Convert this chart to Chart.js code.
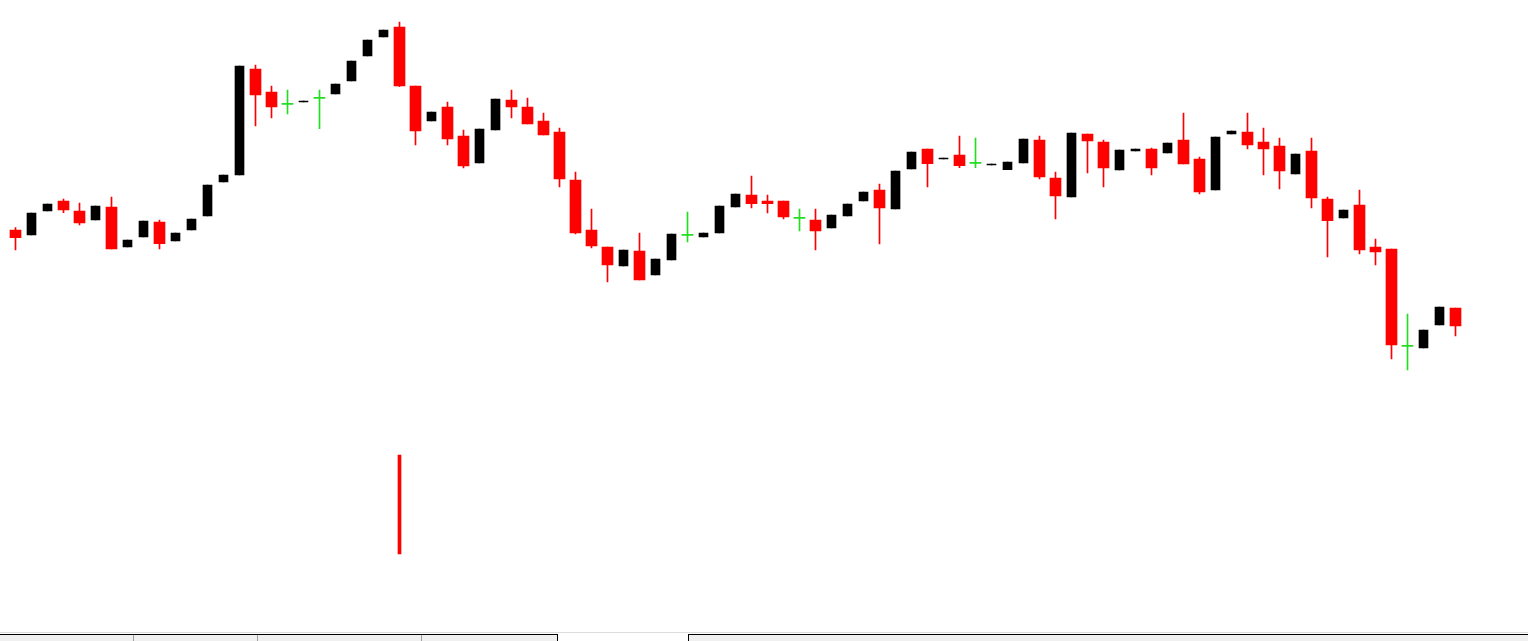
<!DOCTYPE html>
<html>
<head>
<meta charset="utf-8">
<script src="https://cdn.jsdelivr.net/npm/chart.js@4.4.0/dist/chart.umd.min.js"></script>
<style>
  html, body { margin: 0; padding: 0; background: #fff; overflow: hidden; }
  #wrap { position: relative; width: 1528px; height: 641px; }
  #chart { position: absolute; left: 0; top: 0; }
  .rule { position: absolute; left: 0; top: 632px; width: 1528px; height: 1px; background: #dcdcdc; }
  .tab { position: absolute; top: 634px; height: 7px; background: #f0f0f0; border-top: 1px solid #000; box-sizing: border-box; }
  .sep { position: absolute; top: 635px; width: 1px; height: 6px; background: #a0a0a0; }
</style>
</head>
<body>
<div id="wrap">
  <canvas id="chart" width="1528" height="641"></canvas>
  <div class="rule"></div>
  <div class="tab" style="left:0; width:558px; border-right:1px solid #000;"></div>
  <div class="sep" style="left:133px;"></div>
  <div class="sep" style="left:257px;"></div>
  <div class="sep" style="left:421px;"></div>
  <div class="tab" style="left:688px; width:840px; border-left:1px solid #000;"></div>
</div>
<script>
// candle data (price units, no axis shown in the original)
const bars = Array.from({ length: 91 }, (_, i) => String(i + 1));

const open = [
  411, 406, 430, 440, 430, 421, 434, 394, 404, 419,
  400, 411, 425, 459, 466, 572, 549, 536.7, 539, 542.7,
  547, 560, 585, 604, 614, 555, 520, 534, 505, 478,
  511, 541, 534, 520, 509, 461, 411, 394, 375, 390,
  366, 381, 405.7, 404, 408, 434, 446, 440, 440, 422.7,
  421, 413, 425, 440, 451, 432, 472, 492, 482, 486,
  477.7, 476, 471.3, 478, 501, 463, 444, 507, 499, 471,
  490, 492, 488, 501, 482, 451, 507, 509, 499, 495,
  467, 490, 442, 423, 436, 394, 392, 294.7, 293, 316,
  333
];
const high = [
  413.3, 428, 437, 442, 438, 435, 444, 401, 420, 421,
  408, 422, 456, 466, 575, 576, 555, 551, 540, 551,
  557, 580, 601, 611, 619, 555, 529, 539, 511, 512,
  542, 551, 543, 528, 513, 469, 432, 394, 391, 408,
  382, 407, 429, 408, 435, 447, 465, 446, 440, 432,
  432, 426, 437, 449, 457, 470, 489, 492, 483, 505,
  503, 477, 479, 502, 505, 469, 508, 507, 501, 491,
  492, 493, 498, 528, 484, 504, 510, 528, 513, 503,
  487, 503, 444, 431, 451, 402, 392, 327, 311, 334,
  333
];
const low = [
  391, 406, 430, 428.3, 416, 421, 392, 394, 404, 392,
  400, 411, 425, 459, 466, 515, 523, 527, 539, 512.3,
  547, 560, 585, 604, 554.3, 496, 520, 496, 473, 478,
  511, 523, 517, 506, 454, 407, 393, 359, 375, 361,
  366, 381, 399, 404, 408, 434, 433, 428, 422, 410,
  391, 413, 425, 440, 397, 432, 472, 454, 482, 473.3,
  473.3, 476, 471.3, 478, 462, 422, 444, 468, 454, 471,
  490, 466, 488, 477, 447, 451, 507, 492, 466, 452,
  467, 433, 384, 423, 387, 376, 282, 271, 293, 316,
  305
];
const close = [
  403.3, 428, 437, 431, 418, 435, 392, 401, 420, 397.3,
  408, 422, 456, 466, 575, 546, 534, 536.7, 540, 542.7,
  557, 580, 601, 611, 555, 510, 529, 502, 475, 512,
  542, 534, 517, 506, 462, 408, 395, 376, 391, 361,
  382, 407, 405.7, 408, 435, 447, 437.3, 437.3, 424, 422.7,
  410, 426, 437, 449, 433, 470, 489, 477.3, 483, 475.3,
  477.7, 477, 479, 502, 464, 445, 508, 500, 473, 491,
  492, 473, 498, 477, 449, 504, 510, 496, 492, 470,
  487, 443, 420.3, 431, 391, 389, 296, 294.7, 311, 334,
  315
];
// lower indicator pane, one spike only
const signal = bars.map((_, i) => (i === 24 ? 1 : null));

const UP = '#000000';
const DOWN = '#ff0000';
const DOJI = '#22dd22';

function kind(i) {
  if (close[i] > open[i]) return 'up';
  if (close[i] < open[i]) return 'down';
  return 'doji';
}

const upBody = bars.map((_, i) => kind(i) === 'up' ? [open[i], close[i]] : null);
const downBody = bars.map((_, i) => kind(i) === 'down' ? [open[i], close[i]] : null);
const dojiBody = bars.map((_, i) => kind(i) === 'doji' ? [open[i], close[i]] : null);
const wicks = bars.map((_, i) => [low[i], high[i]]);
const wickColors = bars.map((_, i) => {
  const k = kind(i);
  return k === 'up' ? UP : (k === 'down' ? DOWN : DOJI);
});

// indicator pane: 0 sits at 554px, 1 unit = 99px
const unit = 99;
const y2max = 554 / unit;
const y2min = y2max - 641 / unit;

new Chart(document.getElementById('chart'), {
  type: 'bar',
  data: {
    labels: bars,
    datasets: [
      { label: 'up', data: upBody, backgroundColor: UP, barThickness: 9, minBarLength: 1, order: 0 },
      { label: 'down', data: downBody, backgroundColor: DOWN, barThickness: 11, minBarLength: 1, order: 1 },
      { label: 'doji', data: dojiBody, backgroundColor: DOJI, barThickness: 11, minBarLength: 1, order: 2 },
      { label: 'wick', data: wicks, backgroundColor: wickColors, barThickness: 1, order: 3 },
      { label: 'signal', data: signal, backgroundColor: DOWN, barThickness: 3, yAxisID: 'y2', order: 4 }
    ]
  },
  options: {
    responsive: false,
    animation: false,
    devicePixelRatio: 1,
    layout: { padding: { left: 7.5, right: 64.5, top: 0, bottom: 0 } },
    datasets: { bar: { grouped: false, borderWidth: 0 } },
    plugins: { legend: { display: false }, tooltip: { enabled: false } },
    scales: {
      x: { type: 'category', display: false, offset: true, grid: { display: false } },
      y: { display: false, min: 0, max: 641 },
      y2: { display: false, min: y2min, max: y2max }
    }
  }
});
</script>
</body>
</html>
